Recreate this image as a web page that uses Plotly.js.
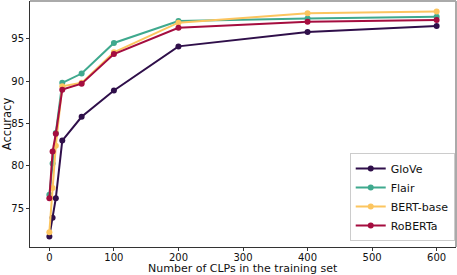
<!DOCTYPE html>
<html>
<head>
<meta charset="utf-8">
<script src="https://cdn.plot.ly/plotly-3.0.1.min.js"></script>
<style>
  html, body { margin: 0; padding: 0; background: #fff; }
  #myDiv { width: 457px; height: 275px; }
</style>
</head>
<body>
<div id="myDiv"></div>
<script>
var clps = [0, 5, 10, 20, 50, 100, 200, 400, 600];

var glove   = [71.7, 73.9, 76.2, 83.0, 85.8, 88.9, 94.1, 95.8, 96.5];
var flair   = [76.6, 80.3, 83.9, 89.8, 90.9, 94.5, 97.1, 97.4, 97.6];
var bert    = [72.2, 77.4, 82.4, 89.4, 89.8, 93.4, 96.9, 98.0, 98.2];
var roberta = [76.2, 81.7, 83.8, 89.0, 89.7, 93.2, 96.3, 97.0, 97.2];

var makeTrace = function(name, ys, color) {
  return {
    x: clps,
    y: ys,
    mode: "lines+markers",
    name: name,
    type: "scatter",
    line: {color: color, width: 2},
    marker: {color: color, size: 6}
  };
};

var data = [
  makeTrace("GloVe", glove, "#2f0f4a"),
  makeTrace("Flair", flair, "#3fa98e"),
  makeTrace("BERT-base", bert, "#fcc55f"),
  makeTrace("RoBERTa", roberta, "#a50d3f")
];

var layout = {
  width: 457,
  height: 275,
  margin: {l: 30, r: 1, t: 1, b: 28},
  paper_bgcolor: "#fff",
  plot_bgcolor: "#fff",
  font: {family: "DejaVu Sans", size: 10, color: "#111"},
  showlegend: true,
  legend: {
    x: 0.997, y: 0.024, xanchor: "right", yanchor: "bottom",
    bgcolor: "rgba(255,255,255,0.8)",
    bordercolor: "#cccccc",
    borderwidth: 1,
    font: {family: "DejaVu Sans", size: 11, color: "#111"},
    tracegroupgap: 0
  },
  xaxis: {
    range: [-30, 630],
    tickvals: [0, 100, 200, 300, 400, 500, 600],
    ticks: "outside",
    ticklen: 3,
    tickcolor: "#333",
    ticklabelstandoff: -2,
    showgrid: false,
    zeroline: false,
    showline: true,
    linecolor: "#333",
    linewidth: 1,
    tickfont: {size: 10}
  },
  yaxis: {
    range: [70.45, 99.45],
    tickvals: [75, 80, 85, 90, 95],
    ticks: "outside",
    ticklen: 3,
    tickcolor: "#333",
    showgrid: false,
    zeroline: false,
    showline: true,
    linecolor: "#333",
    linewidth: 1,
    tickfont: {size: 10},
    title: {text: "Accuracy", font: {size: 11.5}, standoff: 4}
  },
  annotations: [
    {text: "Number of CLPs in the training set", xref: "paper", yref: "paper",
     x: 0.5, y: 0, xanchor: "center", yanchor: "middle", yshift: -21,
     showarrow: false, font: {size: 11, color: "#111"}}
  ],
  shapes: [
    {type: "line", xref: "paper", yref: "paper", x0: 0, x1: 1, y0: 1, y1: 1,
     line: {color: "#aaaaaa", width: 2}},
    {type: "line", xref: "paper", yref: "paper", x0: 1, x1: 1, y0: 0, y1: 1,
     line: {color: "#aaaaaa", width: 2}}
  ]
};

Plotly.newPlot("myDiv", data, layout, {displayModeBar: false});
</script>
</body>
</html>
